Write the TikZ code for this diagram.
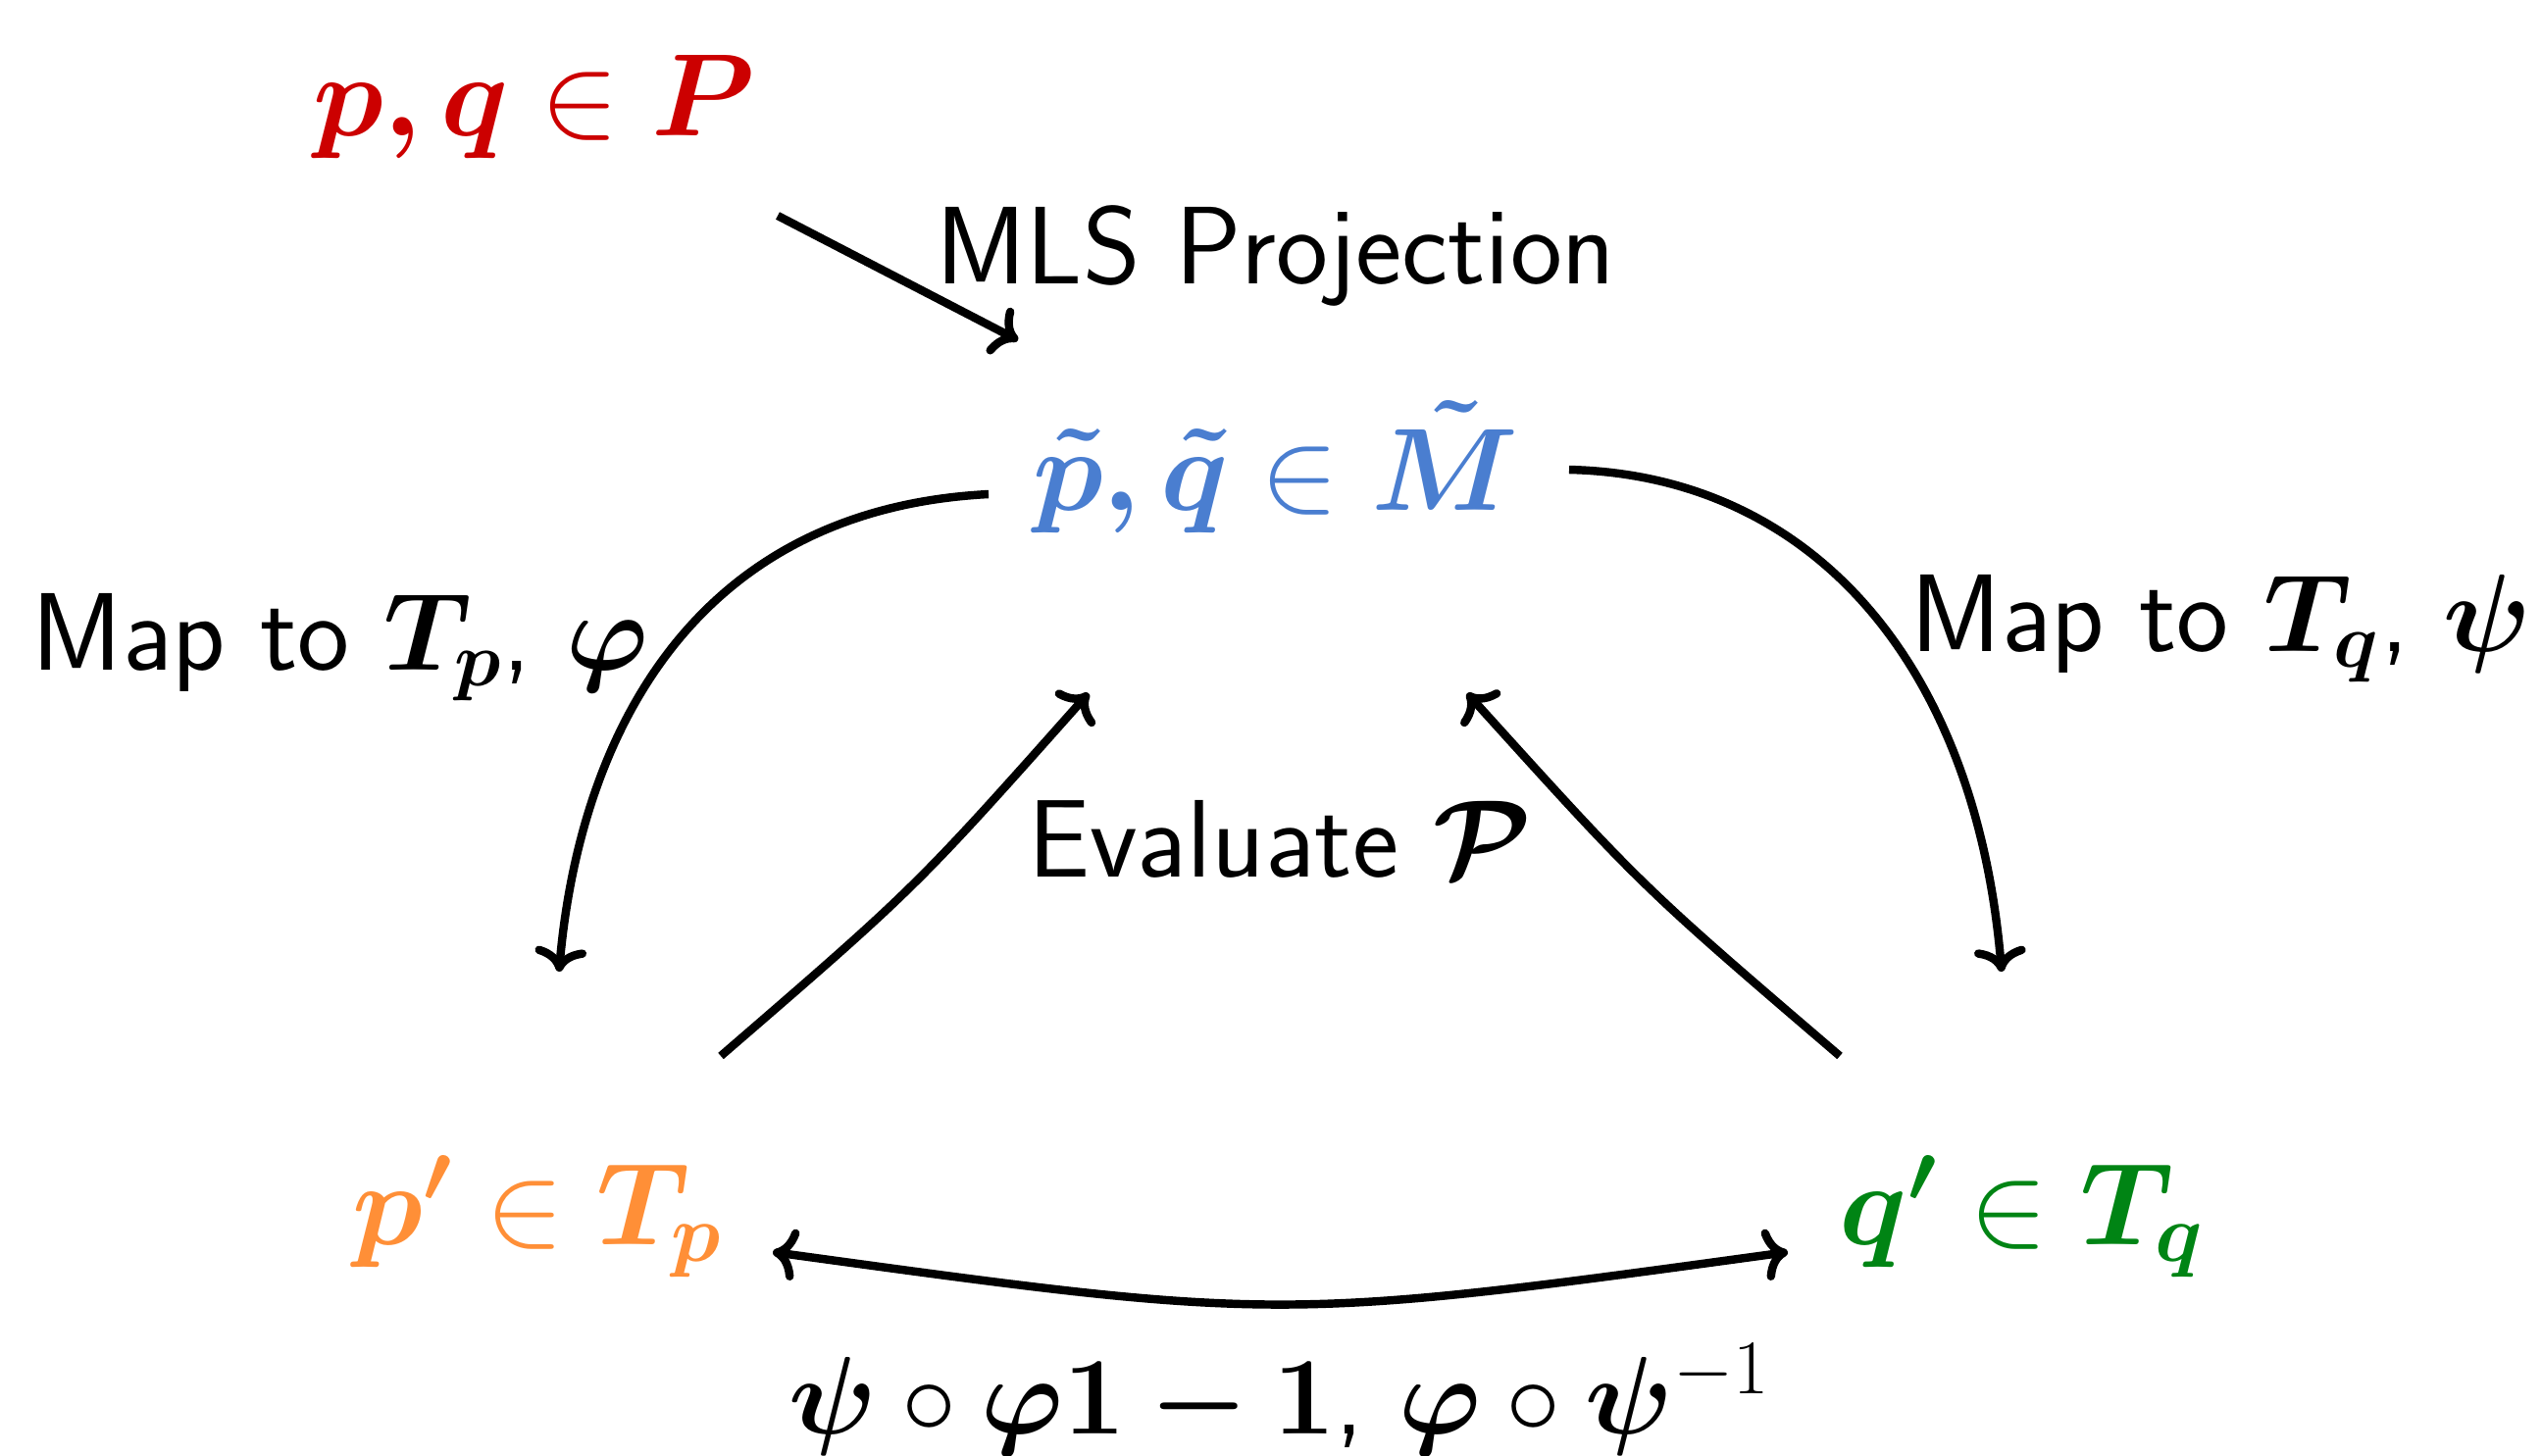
\RequirePackage{fix-cm}
\documentclass[tikz,border=0pt]{standalone}
\usepackage{amsmath,amssymb,bm}
\usetikzlibrary{calc,arrows.meta}
\definecolor{cred}{RGB}{204,0,0}
\definecolor{cblue}{RGB}{74,126,208}
\definecolor{corange}{RGB}{255,143,55}
\definecolor{cgreen}{RGB}{0,132,20}
\tikzset{
  mathnode/.style={anchor=base,inner sep=0pt,font=\fontsize{34}{40}\selectfont},
  lbl/.style={anchor=base,inner sep=0pt,font=\fontsize{32}{38}\selectfont\sffamily},
  conn/.style={line width=2.4pt,-{To[length=7pt,width=15pt]}},
  conn2/.style={line width=2.4pt,{To[length=7pt,width=15pt]}-{To[length=7pt,width=15pt]}},
}
\begin{document}
\begin{tikzpicture}[x=0.01cm,y=-0.01cm]
\useasboundingbox (0,0) rectangle (2591,1484);
% nodes
\node[mathnode,text=cred] (P) at (545,138) {$\bm{p,q}\in\bm{P}$};
\node[mathnode,text=cblue] (M) at (1301,520) {$\bm{\tilde p,\tilde q}\in\bm{\tilde M}$};
\node[mathnode,text=corange] (Tp) at (548,1269) {$\bm{p'}\in\bm{T_p}$};
\node[mathnode,text=cgreen] (Tq) at (2062,1269) {$\bm{q'}\in\bm{T_q}$};
% labels
\node[lbl] (lmls) at (1301,289) {MLS Projection};
\node[lbl] (lphi) at (347,683) {Map to $\bm{T_p}$, $\bm{\varphi}$};
\node[lbl] (lpsi) at (2265,664) {Map to $\bm{T_q}$, $\bm{\psi}$};
\node[lbl] (leval) at (1305,894) {Evaluate $\bm{\mathcal{P}}$};
\node[lbl] (lbot) at (1305,1462) {$\bm{\psi}\circ\bm{\varphi 1-1}$, $\bm{\varphi}\circ\bm{\psi}^{-1}$};
% connectors
\draw[conn] ($(P.base)+(248,82)$) -- ($(M.base)+(-263,-173)$);
\draw[conn] ($(M.base)+(-293,-16)$) .. controls (700,520) and (590,760) .. ($(Tp.base)+(22,-278)$);
\draw[conn] ($(M.base)+(299,-41)$) .. controls (1850,485) and (2015,680) .. ($(Tq.base)+(-21,-278)$);
\draw[conn] ($(Tp.base)+(187,-192)$) .. controls (934,905) .. ($(M.base)+(-191,187)$);
\draw[conn] ($(Tq.base)+(-186,-192)$) .. controls (1674,904) .. ($(M.base)+(195,187)$);
\draw[conn2] ($(Tp.base)+(240,8)$) .. controls (1305,1348) .. ($(Tq.base)+(-239,8)$);
\end{tikzpicture}
\end{document}
